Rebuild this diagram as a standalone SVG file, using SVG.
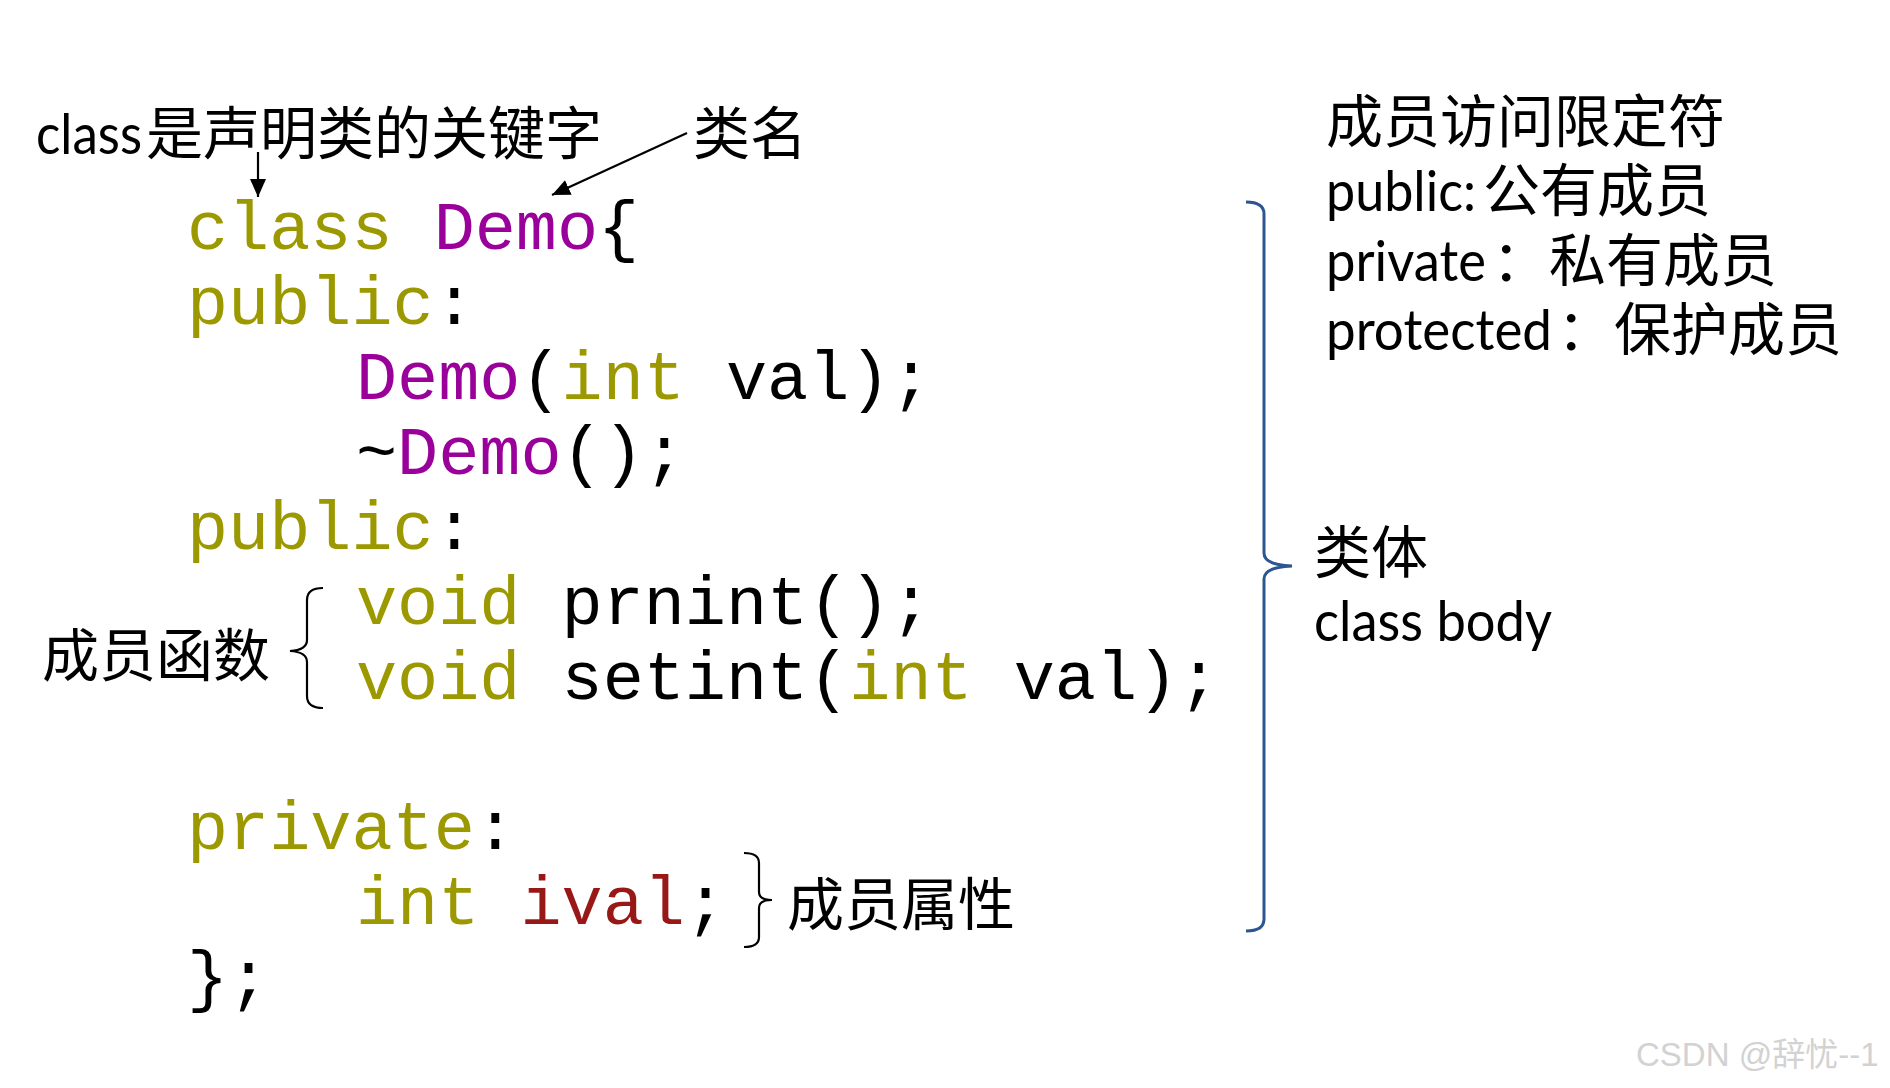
<svg xmlns="http://www.w3.org/2000/svg" width="1890" height="1088" viewBox="0 0 1890 1088">
<style>
.lbl{font-family:Lato,"Noto Sans CJK SC",sans-serif;font-size:57px;fill:#000}
.cjk{font-family:"Noto Sans CJK SC",sans-serif;font-size:57px;fill:#000}
.code{font-family:"Liberation Mono","Courier New",monospace;font-size:68.5px;fill:#000}
.kw{fill:#9c9800}
.nm{fill:#9a009a}
.var{fill:#981818}
.brace{fill:none;stroke:#000;stroke-width:2.2}
.bbrace{fill:none;stroke:#2c5591;stroke-width:3}
.arr{stroke:#000;stroke-width:2.2;fill:none}
.wm{font-family:"Liberation Sans",Arial,"Noto Sans CJK SC",sans-serif;font-size:33px;fill:#d2d2d2}
</style>
<defs>
<marker id="ah" markerUnits="userSpaceOnUse" markerWidth="20" markerHeight="16" refX="18" refY="8" orient="auto">
<path d="M0,0 L18,8 L0,16 Z" fill="#000"/>
</marker>
</defs>
<rect width="1890" height="1088" fill="#fff"/>

<g id="label-class-keyword">
<text class="lbl" x="36" y="154" textLength="106" lengthAdjust="spacingAndGlyphs">class</text>
<text class="cjk" x="146" y="154">是声明类的关键字</text>
</g>
<g id="label-class-name">
<text class="cjk" x="693" y="154">类名</text>
</g>

<g id="code">
<text class="code" x="187" y="249"><tspan class="kw">class</tspan> <tspan class="nm">Demo</tspan>{</text>
<text class="code" x="187" y="324"><tspan class="kw">public</tspan>:</text>
<text class="code" x="356" y="399"><tspan class="nm">Demo</tspan>(<tspan class="kw">int</tspan> val);</text>
<text class="code" x="356" y="474">~<tspan class="nm">Demo</tspan>();</text>
<text class="code" x="187" y="549"><tspan class="kw">public</tspan>:</text>
<text class="code" x="356" y="624"><tspan class="kw">void</tspan> prnint();</text>
<text class="code" x="356" y="699"><tspan class="kw">void</tspan> setint(<tspan class="kw">int</tspan> val);</text>
<text class="code" x="187" y="849"><tspan class="kw">private</tspan>:</text>
<text class="code" x="356" y="924"><tspan class="kw">int</tspan> <tspan class="var">ival</tspan>;</text>
<text class="code" x="187" y="999">};</text>
</g>

<g id="label-member-functions">
<text class="cjk" x="42" y="676">成员函数</text>
<path class="brace" d="M323,588 Q307,588 307,600 L307,640 Q307,650 290,651 Q307,652 307,662 L307,696 Q307,708 323,708"/>
</g>

<g id="label-member-attributes">
<path class="brace" d="M744,853 Q759,853 759,863 L759,892 Q759,900 772,900 Q759,900 759,908 L759,937 Q759,947 744,947"/>
<text class="cjk" x="787" y="925">成员属性</text>
</g>

<g id="label-class-body">
<path class="bbrace" d="M1246,202 Q1264,202 1264,214 L1264,553 Q1264,565 1292,566 Q1264,567 1264,579 L1264,919 Q1264,931 1246,931"/>
<text class="cjk" x="1314" y="573">类体</text>
<text class="lbl" x="1314" y="641" textLength="238" lengthAdjust="spacingAndGlyphs">class body</text>
</g>

<g id="label-access">
<text class="cjk" x="1326" y="142">成员访问限定符</text>
<text class="lbl" x="1326" y="211" textLength="150" lengthAdjust="spacingAndGlyphs">public:</text>
<text class="cjk" x="1483" y="211">公有成员</text>
<text class="lbl" x="1326" y="281" textLength="160" lengthAdjust="spacingAndGlyphs">private</text>
<text class="cjk" x="1492" y="281">：私有成员</text>
<text class="lbl" x="1326" y="350" textLength="226" lengthAdjust="spacingAndGlyphs">protected</text>
<text class="cjk" x="1557" y="350">：保护成员</text>
</g>

<g id="connectors">
<line class="arr" x1="258" y1="152" x2="258" y2="197" marker-end="url(#ah)"/>
<line class="arr" x1="687" y1="133" x2="552" y2="195" marker-end="url(#ah)"/>
</g>

<text class="wm" x="1636" y="1066">CSDN @辞忧--1</text>
</svg>
